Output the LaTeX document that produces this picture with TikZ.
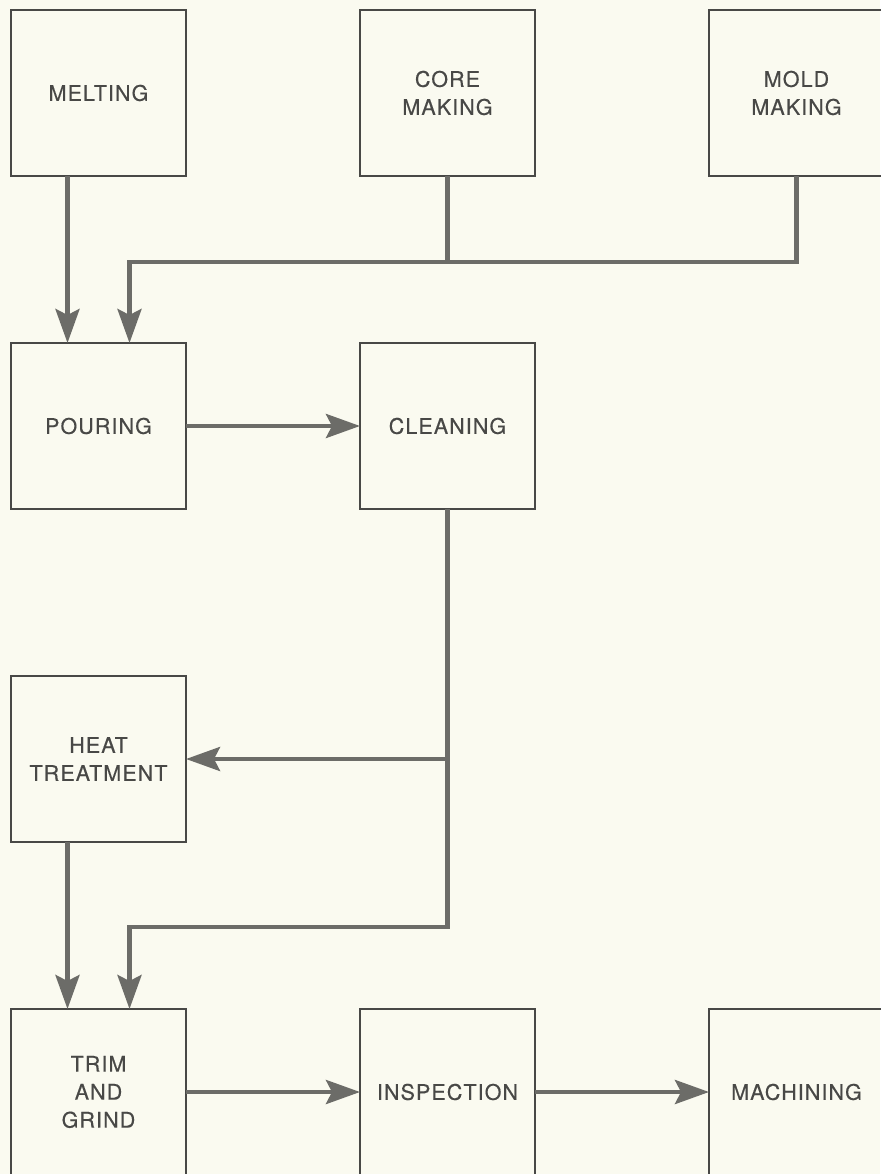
\documentclass[tikz,border=0pt]{standalone}
\usepackage{fontspec}
\newfontfamily\boxfont{TeX Gyre Heros}[LetterSpace=5,FakeBold=0.4]
\usepackage{xcolor}
\usepackage{tikz}
\usetikzlibrary {positioning}
\usetikzlibrary{arrows.meta,calc}
\definecolor{paper}{RGB}{250,250,240}
\definecolor{ink}{RGB}{72,72,70}
\definecolor{wire}{RGB}{108,108,104}
\tikzset{link/.style = {draw=wire, line width=4.5pt}}
\tikzset{edge/.style = {link,->,> = {Stealth[length=34pt,width=24pt,inset=6pt]}}}

\begin{document}
\begin{tikzpicture}[node distance=167pt and 174pt, main node/.style={draw=ink,line width=1.8pt,outer sep=0pt,minimum width=175pt,minimum height=166pt,inner sep=0pt,align=center,text=ink,font=\boxfont\fontsize{21.5}{28}\selectfont}]
                \path[use as bounding box, fill=paper] (-98.5pt,93pt) rectangle (781.5pt,-1081pt);

                \node[main node] (melting) at (0,0) {MELTING};
                \node[main node] (core) [right=of melting] {CORE\\MAKING};
                \node[main node] (mold) [right=of core] {MOLD\\MAKING};
                \node[main node] (pouring) [below=of melting] {POURING};
                \node[main node] (cleaning) [right=of pouring] {CLEANING};
                \node[main node] (heat) [below=of pouring] {HEAT\\TREATMENT};
                \node[main node] (trim) [below=of heat] {TRIM\\AND\\GRIND};
                \node[main node] (inspection) [right=of trim] {INSPECTION};
                \node[main node] (machining) [right=of inspection] {MACHINING};

                \coordinate (top join) at ([yshift=-86pt]core.south);
                \coordinate (pour in) at ([xshift=31pt]pouring.north);
                \coordinate (low join) at ($(heat.south -| cleaning.south)+(0,-85pt)$);
                \coordinate (trim in) at ([xshift=31pt]trim.north);

                \draw[edge] ([xshift=-31pt]melting.south) -- ([xshift=-31pt]pouring.north);
                \draw[link] (core.south) -- (top join);
                \draw[edge] (mold.south) |- (pour in |- top join) -- (pour in);
                \draw[edge] (pouring) -- (cleaning);
                \draw[edge] (cleaning.south) |- (trim in |- low join) -- (trim in);
                \draw[edge] (cleaning.south |- heat.east) -- (heat.east);
                \draw[edge] ([xshift=-31pt]heat.south) -- ([xshift=-31pt]trim.north);
                \draw[edge] (trim) -- (inspection);
                \draw[edge] (inspection) -- (machining);
            \end{tikzpicture}
\end{document}
